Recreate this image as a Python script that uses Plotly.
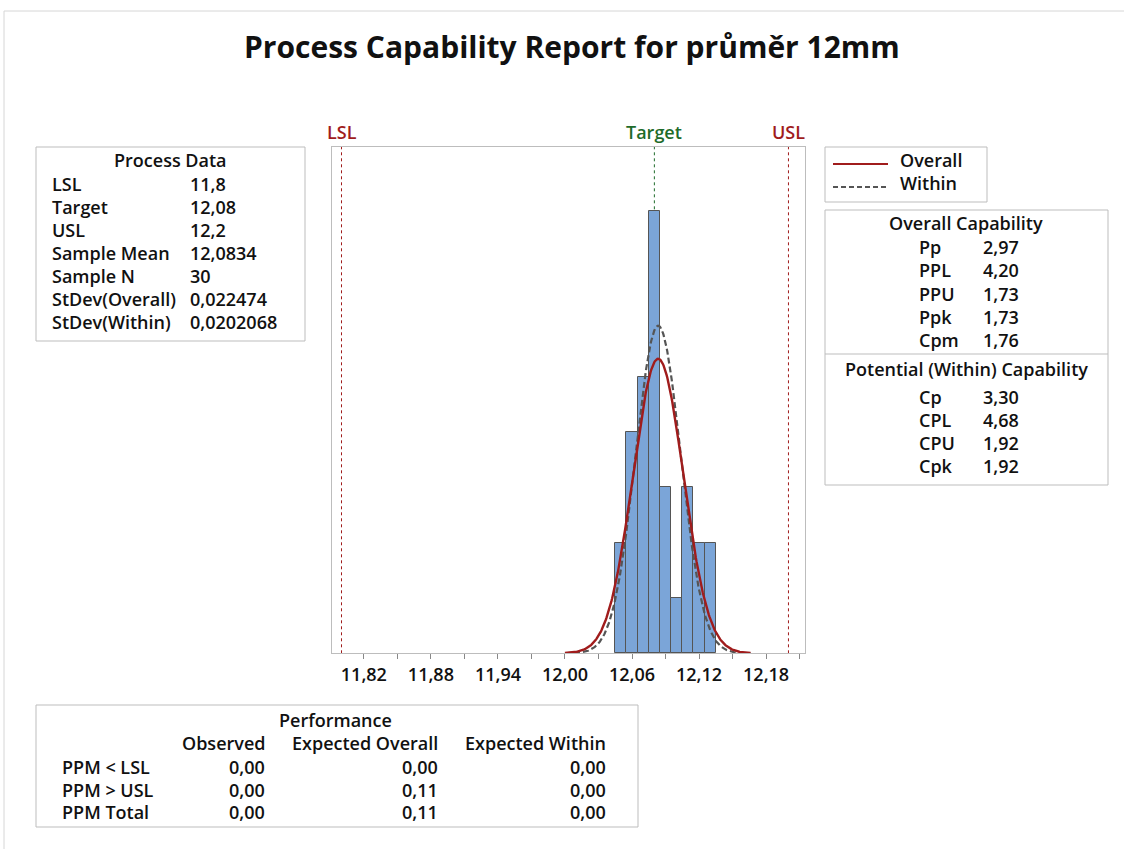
import numpy as np
import plotly.graph_objects as go

W, H = 1124, 849

# ---------------- data ----------------
bin_centers = [12.05, 12.06, 12.07, 12.08, 12.09, 12.10, 12.11, 12.12, 12.13]
bin_counts = [2, 4, 5, 8, 3, 1, 3, 2, 2]
bin_width = 0.01

lsl, target, usl = 11.8, 12.08, 12.2
sample_mean = 12.0834
sample_n = 30
sd_overall = 0.022474
sd_within = 0.0202068
curve_x_range = [12.0, 12.166]

tick_vals = [11.82, 11.88, 11.94, 12.00, 12.06, 12.12, 12.18]
tick_text = ["11,82", "11,88", "11,94", "12,00", "12,06", "12,12", "12,18"]

pd_labels = ["LSL", "Target", "USL", "Sample Mean", "Sample N", "StDev(Overall)", "StDev(Within)"]
pd_values = ["11,8", "12,08", "12,2", "12,0834", "30", "0,022474", "0,0202068"]

oc_labels = ["Pp", "PPL", "PPU", "Ppk", "Cpm"]
oc_values = ["2,97", "4,20", "1,73", "1,73", "1,76"]
pc_labels = ["Cp", "CPL", "CPU", "Cpk"]
pc_values = ["3,30", "4,68", "1,92", "1,92"]

perf_cols = ["Observed", "Expected Overall", "Expected Within"]
perf_rows = ["PPM < LSL", "PPM > USL", "PPM Total"]
perf_observed = ["0,00", "0,00", "0,00"]
perf_exp_overall = ["0,00", "0,11", "0,11"]
perf_exp_within = ["0,00", "0,00", "0,00"]

# ---------------- style ----------------
FONT = "Open Sans"
TXT = "#111111"
RED = "#A01C1C"
GREEN = "#1E6B2A"
BAR = "#7BA5D8"
GRAYLINE = "#BDBDBD"
FS = 18
WT = 600


def X(px):
    return px / W


def Y(py):
    return 1 - py / H


fig = go.Figure()

fig.add_trace(go.Bar(
    x=bin_centers, y=bin_counts, width=bin_width,
    marker=dict(color=BAR, line=dict(color="#555555", width=1)),
    showlegend=False, hoverinfo="skip"))

xs = np.linspace(curve_x_range[0], curve_x_range[1], 300)
scale = sample_n * bin_width


def npdf(x, m, s):
    return np.exp(-0.5 * ((x - m) / s) ** 2) / (s * np.sqrt(2 * np.pi))


fig.add_trace(go.Scatter(x=xs, y=scale * npdf(xs, sample_mean, sd_within), mode="lines",
                         line=dict(color="#555555", width=2.2, dash="6px,3px"), showlegend=False,
                         hoverinfo="skip"))
fig.add_trace(go.Scatter(x=xs, y=scale * npdf(xs, sample_mean, sd_overall), mode="lines",
                         line=dict(color=RED, width=2.4), showlegend=False, hoverinfo="skip"))

shapes = []
annots = []

# spec lines (behind the bars)
for val, col in [(lsl, RED), (target, GREEN), (usl, RED)]:
    shapes.append(dict(type="line", xref="x", yref="y domain", x0=val, x1=val, y0=0, y1=1, layer="below",
                       line=dict(color=col, width=1, dash="dot")))
for val, col, txt in [(lsl, RED, "LSL"), (target, GREEN, "Target"), (usl, RED, "USL")]:
    annots.append(dict(x=val, xref="x", y=Y(132), yref="paper", text=txt, showarrow=False,
                       xanchor="center", yanchor="middle",
                       font=dict(family=FONT, size=18, color=col, weight=WT)))


def box(x0, y0, x1, y1):
    shapes.append(dict(type="rect", xref="paper", yref="paper", x0=X(x0), x1=X(x1), y0=Y(y0), y1=Y(y1),
                       line=dict(color=GRAYLINE, width=1), fillcolor="rgba(0,0,0,0)"))


def text(px, py, s, anchor="left", size=FS, color=TXT, weight=WT):
    annots.append(dict(x=X(px), y=Y(py), xref="paper", yref="paper", text=s, showarrow=False,
                       xanchor=anchor, yanchor="middle", font=dict(family=FONT, size=size, color=color, weight=weight)))


# outer frame lines
shapes.append(dict(type="line", xref="paper", yref="paper", x0=X(4), x1=1, y0=Y(11), y1=Y(11),
                   line=dict(color="#D6D6D6", width=1)))
shapes.append(dict(type="line", xref="paper", yref="paper", x0=X(4), x1=X(4), y0=Y(11), y1=0,
                   line=dict(color="#D6D6D6", width=1)))

# title
text(572, 46, "Process Capability Report for průměr 12mm", anchor="center", size=30, weight=700)

# process data box
box(36, 147, 305, 341)
text(170, 160, "Process Data", anchor="center")
row_y = [184, 207, 230, 253, 276, 299, 322]
for lab, val, yy in zip(pd_labels, pd_values, row_y):
    text(50, yy, lab)
    text(188, yy, val)

# legend box
box(825, 147, 987, 202)
shapes.append(dict(type="line", xref="paper", yref="paper", x0=X(833), x1=X(888), y0=Y(164), y1=Y(164),
                   line=dict(color=RED, width=2)))
shapes.append(dict(type="line", xref="paper", yref="paper", x0=X(833), x1=X(888), y0=Y(187), y1=Y(187),
                   line=dict(color="#555555", width=2, dash="5px,3px")))
text(898, 160, "Overall")
text(898, 183, "Within")

# capability box
box(825, 210, 1108, 485)
shapes.append(dict(type="line", xref="paper", yref="paper", x0=X(825), x1=X(1108), y0=Y(354), y1=Y(354),
                   line=dict(color=GRAYLINE, width=1)))
text(966, 223, "Overall Capability", anchor="center")
for lab, val, yy in zip(oc_labels, oc_values, [247, 270, 294, 317, 340]):
    text(917, yy, lab)
    text(981, yy, val)
text(966, 369, "Potential (Within) Capability", anchor="center")
for lab, val, yy in zip(pc_labels, pc_values, [397, 420, 443, 466]):
    text(917, yy, lab)
    text(981, yy, val)

# performance box
box(36, 705, 638, 827)
text(335, 720, "Performance", anchor="center")
col_right = [267, 440, 608]
for c, xr in zip(perf_cols, col_right):
    text(xr, 743, c, anchor="right")
for i, (r, yy) in enumerate(zip(perf_rows, [767, 790, 812])):
    text(60, yy, r)
    text(col_right[0], yy, perf_observed[i], anchor="right")
    text(col_right[1], yy, perf_exp_overall[i], anchor="right")
    text(col_right[2], yy, perf_exp_within[i], anchor="right")

fig.update_layout(
    width=W, height=H, margin=dict(l=0, r=0, t=0, b=0),
    paper_bgcolor="white", plot_bgcolor="white",
    bargap=0, shapes=shapes, annotations=annots, showlegend=False,
    xaxis=dict(domain=[X(332), X(805)], range=[11.7915, 12.2148],
               tickvals=tick_vals, ticktext=tick_text, ticks="outside", ticklen=5, tickcolor="#888888",
               tickfont=dict(family=FONT, size=18, color=TXT, weight=WT),
               minor=dict(dtick=0.03, tick0=11.82, ticks="outside", ticklen=5, tickcolor="#888888"),
               showline=True, linecolor=GRAYLINE, mirror=True, showgrid=False, zeroline=False),
    yaxis=dict(domain=[Y(653.3), Y(147)], range=[0, 9.155], showticklabels=False, ticks="",
               showline=True, linecolor=GRAYLINE, mirror=True, showgrid=False, zeroline=False),
)

fig.write_html("out.html")
